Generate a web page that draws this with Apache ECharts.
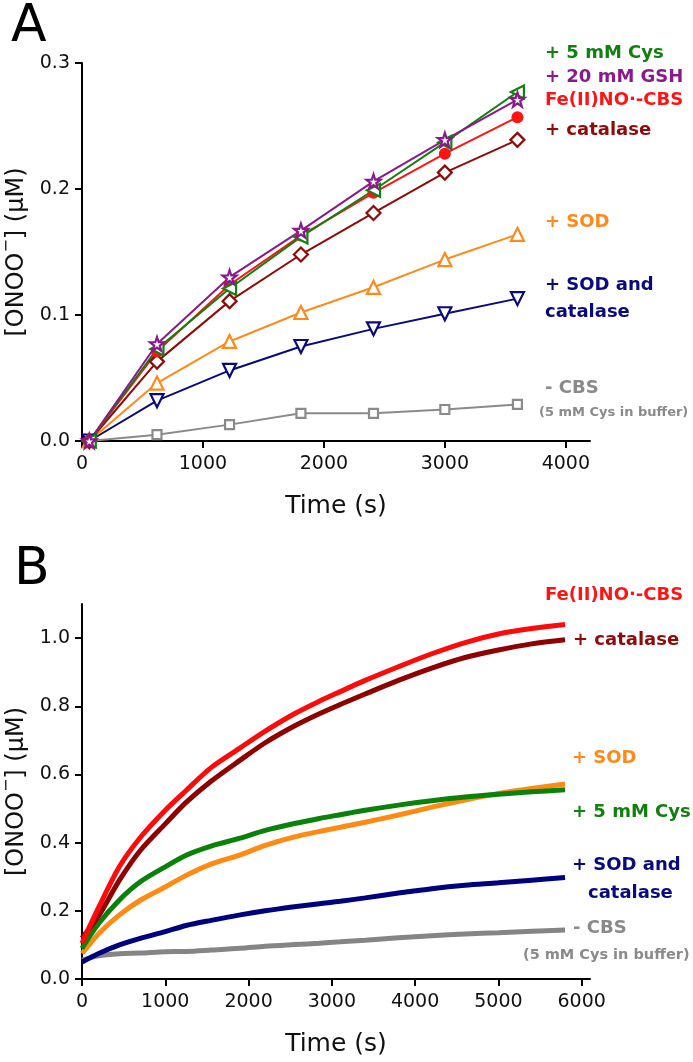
<!DOCTYPE html>
<html>
<head>
<meta charset="utf-8">
<script src="https://cdn.jsdelivr.net/npm/echarts@6/dist/echarts.min.js"></script>
<style>
html,body{margin:0;padding:0;background:#fff;}
#c{width:693px;height:1062px;}
</style>
</head>
<body>
<div id="c"></div>
<script>
// ---------- Panel A data ----------
const timeA = [60, 620, 1220, 1810, 2410, 3000, 3600];
const cysA = [0, 0.073, 0.121, 0.162, 0.199, 0.237, 0.277];
const gshA = [0, 0.077, 0.130, 0.167, 0.206, 0.239, 0.271];
const cbsA = [0, 0.071, 0.124, 0.163, 0.197, 0.228, 0.257];
const catA = [0, 0.063, 0.111, 0.148, 0.181, 0.213, 0.239];
const sodA = [0, 0.046, 0.079, 0.102, 0.122, 0.144, 0.164];
const sodCatA = [0, 0.032, 0.056, 0.075, 0.089, 0.101, 0.113];
const noCbsA = [0, 0.005, 0.013, 0.022, 0.022, 0.025, 0.029];

// ---------- Panel B data ----------
const timeB = [0, 200, 450, 700, 1000, 1250, 1550, 1900, 2200, 2550, 2850, 3100, 3400, 3800, 4200, 4600, 5000, 5400, 5800];
const cbsB = [0.105, 0.21, 0.33, 0.415, 0.495, 0.553, 0.62, 0.678, 0.727, 0.778, 0.815, 0.843, 0.876, 0.916, 0.954, 0.987, 1.012, 1.028, 1.04];
const catB = [0.12, 0.185, 0.29, 0.377, 0.455, 0.518, 0.58, 0.642, 0.693, 0.742, 0.778, 0.805, 0.836, 0.876, 0.912, 0.943, 0.965, 0.983, 0.995];
const cysB = [0.09, 0.163, 0.232, 0.285, 0.329, 0.363, 0.39, 0.413, 0.436, 0.456, 0.471, 0.482, 0.495, 0.51, 0.523, 0.534, 0.542, 0.549, 0.555];
const sodB = [0.075, 0.133, 0.188, 0.231, 0.27, 0.304, 0.337, 0.364, 0.392, 0.417, 0.433, 0.445, 0.46, 0.481, 0.504, 0.525, 0.544, 0.559, 0.572];
const sodCatB = [0.05, 0.075, 0.1, 0.119, 0.139, 0.157, 0.172, 0.188, 0.2, 0.212, 0.221, 0.228, 0.238, 0.252, 0.265, 0.275, 0.282, 0.29, 0.298];
const noCbsB = [0.055, 0.068, 0.074, 0.076, 0.08, 0.081, 0.085, 0.09, 0.096, 0.101, 0.105, 0.109, 0.114, 0.121, 0.127, 0.132, 0.136, 0.14, 0.144];

// ---------- Tick labels ----------
const xTicksA = [0, 1000, 2000, 3000, 4000];
const yTicksA = [0, 0.1, 0.2, 0.3];
const xTicksB = [0, 1000, 2000, 3000, 4000, 5000, 6000];
const yTicksB = [0, 0.2, 0.4, 0.6, 0.8, 1.0];

const FONT = '"DejaVu Sans", Arial, sans-serif';
const C = {
  green: '#11800f', purple: '#8a1a8c', red: '#ff1414', darkred: '#8f0a0a',
  orange: '#ff8a1c', navy: '#0a0a80', gray: '#8a8a8a'
};
const STAR = 'path://M50 2 L61.5 36 L97 36 L68.5 57.5 L79 92 L50 71 L21 92 L31.5 57.5 L3 36 L38.5 36 Z';

function pairs(t, v) { return t.map((x, i) => [x, v[i]]); }

function xAxis(grid, max, ticks) {
  return {
    type: 'value', gridIndex: grid, min: 0, max: max, interval: 1000,
    axisLine: { show: true, onZero: false, lineStyle: { color: '#000', width: 2 } },
    axisTick: { show: true, length: 7, lineStyle: { color: '#000', width: 2 }, customValues: ticks },
    axisLabel: { customValues: ticks, margin: 14, fontFamily: FONT, fontSize: 19, color: '#111',
      formatter: v => String(v) },
    splitLine: { show: false },
    name: 'Time (s)', nameLocation: 'middle', nameGap: 53,
    nameTextStyle: { fontFamily: FONT, fontSize: 25, color: '#111' }
  };
}
function yAxis(grid, max, interval, ticks) {
  return {
    type: 'value', gridIndex: grid, min: 0, max: max, interval: interval,
    axisLine: { show: true, onZero: false, lineStyle: { color: '#000', width: 2 } },
    axisTick: { show: true, length: 7, lineStyle: { color: '#000', width: 2 }, customValues: ticks },
    axisLabel: { customValues: ticks, margin: 12, fontFamily: FONT, fontSize: 19, color: '#111',
      formatter: v => v.toFixed(1) },
    splitLine: { show: false },
    name: '{a|[ONOO}{s|\u2212}{a|] (\u03BCM)}', nameLocation: 'middle', nameGap: 46, nameRotate: 90,
    nameTextStyle: {
      fontFamily: FONT, fontSize: 24, color: '#111',
      rich: {
        a: { fontFamily: FONT, fontSize: 24, color: '#111', lineHeight: 30, verticalAlign: 'bottom' },
        s: { fontFamily: FONT, fontSize: 16, color: '#111', lineHeight: 30, verticalAlign: 'top', padding: [0, 0, 14, 0] }
      }
    }
  };
}

function lineA(name, vals, color, symbol, size, filled, rotate) {
  return {
    name: name, type: 'line', xAxisIndex: 0, yAxisIndex: 0,
    data: pairs(timeA, vals), symbol: symbol, symbolSize: size, symbolRotate: rotate || 0,
    showAllSymbol: true,
    lineStyle: { color: color, width: 2 },
    itemStyle: { color: filled ? color : '#fff', borderColor: color, borderWidth: filled ? 0 : 2.2 },
    z: 3
  };
}
function lineB(name, vals, color) {
  return {
    name: name, type: 'line', xAxisIndex: 1, yAxisIndex: 1,
    data: pairs(timeB, vals), showSymbol: false, smooth: 0.3,
    lineStyle: { color: color, width: 5 }
  };
}

function label(text, x, y, color, size) {
  return {
    type: 'text', x: x, y: y, z: 100,
    style: { text: text, fill: color, font: 'bold ' + (size || 18) + 'px ' + FONT, verticalAlign: 'middle', align: 'left' }
  };
}

const chart = echarts.init(document.getElementById('c'), null, { renderer: 'canvas' });
chart.setOption({
  animation: false,
  backgroundColor: '#fff',
  grid: [
    { left: 82, top: 63, width: 508, height: 378, containLabel: false, outerBoundsMode: 'none' },
    { left: 82, top: 604, width: 508, height: 375, containLabel: false, outerBoundsMode: 'none' }
  ],
  xAxis: [xAxis(0, 4200, xTicksA), xAxis(1, 6100, xTicksB)],
  yAxis: [yAxis(0, 0.3, 0.1, yTicksA), yAxis(1, 1.1, 0.2, yTicksB)],
  series: [
    lineA('- CBS', noCbsA, C.gray, 'rect', 9, false),
    lineA('+ SOD and catalase', sodCatA, C.navy, 'triangle', 13, false, 180),
    lineA('+ SOD', sodA, C.orange, 'triangle', 13, false),
    lineA('+ catalase', catA, C.darkred, 'diamond', 14, false),
    lineA('Fe(II)NO·-CBS', cbsA, C.red, 'circle', 12, true),
    lineA('+ 5 mM Cys', cysA, C.green, 'triangle', 13, false, 90),
    lineA('+ 20 mM GSH', gshA, C.purple, STAR, 14, false),
    lineB('- CBS', noCbsB, '#858585'),
    lineB('+ SOD and catalase', sodCatB, '#00007f'),
    lineB('+ SOD', sodB, '#ff8a14'),
    lineB('+ 5 mM Cys', cysB, '#0a820a'),
    lineB('+ catalase', catB, '#8f0000'),
    lineB('Fe(II)NO·-CBS', cbsB, '#ff0a0a')
  ],
  graphic: [
    { type: 'text', x: 11, y: 27, style: { text: 'A', fill: '#000', font: '52px ' + FONT, verticalAlign: 'middle' } },
    { type: 'text', x: 14, y: 570, style: { text: 'B', fill: '#000', font: '52px ' + FONT, verticalAlign: 'middle' } },
    label('+ 5 mM Cys', 545, 53, C.green),
    label('+ 20 mM GSH', 545, 77, C.purple),
    label('Fe(II)NO\u00B7-CBS', 545, 100, C.red),
    label('+ catalase', 545, 130, C.darkred),
    label('+ SOD', 545, 222, C.orange),
    label('+ SOD and', 545, 285, C.navy),
    label('catalase', 545, 312, C.navy),
    label('- CBS', 545, 388, C.gray),
    label('(5 mM Cys in buffer)', 539, 413, C.gray, 13),
    label('Fe(II)NO\u00B7-CBS', 545, 595, C.red),
    label('+ catalase', 573, 640, C.darkred),
    label('+ SOD', 572, 758, C.orange),
    label('+ 5 mM Cys', 572, 812, C.green),
    label('+ SOD and', 572, 865, C.navy),
    label('catalase', 588, 893, C.navy),
    label('- CBS', 573, 928, C.gray),
    label('(5 mM Cys in buffer)', 523, 955, C.gray, 14.5)
  ]
});
</script>
</body>
</html>
